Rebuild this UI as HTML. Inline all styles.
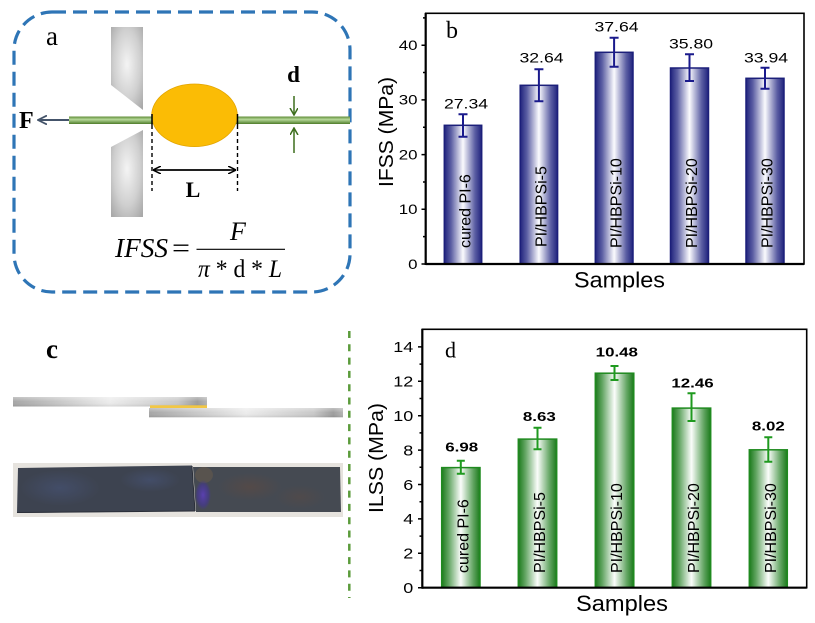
<!DOCTYPE html>
<html><head><meta charset="utf-8"><style>
html,body{margin:0;padding:0;background:#fff;}
svg{display:block;}
text{font-family:"Liberation Sans",Arial,sans-serif;}
.serif{font-family:"Liberation Serif","Times New Roman",serif;}
</style></head><body>
<svg width="815" height="623" viewBox="0 0 815 623" xmlns="http://www.w3.org/2000/svg">
<defs>
<linearGradient id="gb" x1="0" x2="1" y1="0" y2="0">
<stop offset="0" stop-color="#20237d"/><stop offset="0.18" stop-color="#5b5ea3"/><stop offset="0.5" stop-color="#fbfbfe"/><stop offset="0.82" stop-color="#5b5ea3"/><stop offset="1" stop-color="#20237d"/>
</linearGradient>
<linearGradient id="gg" x1="0" x2="1" y1="0" y2="0">
<stop offset="0" stop-color="#1b7a1b"/><stop offset="0.18" stop-color="#62a562"/><stop offset="0.5" stop-color="#fbfdfb"/><stop offset="0.82" stop-color="#62a562"/><stop offset="1" stop-color="#1b7a1b"/>
</linearGradient>
<radialGradient id="grip" cx="0.5" cy="0.45" r="0.7">
<stop offset="0" stop-color="#f4f4f4"/><stop offset="0.6" stop-color="#cfcfcf"/><stop offset="1" stop-color="#a9a9a9"/>
</radialGradient>
<linearGradient id="fib" x1="0" x2="0" y1="0" y2="1">
<stop offset="0" stop-color="#5d8b35"/><stop offset="0.4" stop-color="#b7d99a"/><stop offset="1" stop-color="#4e7c2a"/>
</linearGradient>
<linearGradient id="plate" x1="0" x2="1" y1="0" y2="0">
<stop offset="0" stop-color="#a6a6a6"/><stop offset="0.5" stop-color="#ececec"/><stop offset="0.85" stop-color="#c8c8c8"/><stop offset="0.95" stop-color="#9d9d9d"/><stop offset="1" stop-color="#b5b5b5"/>
</linearGradient>
<linearGradient id="plateV" x1="0" x2="0" y1="0" y2="1">
<stop offset="0" stop-color="#fff" stop-opacity="0.35"/><stop offset="0.5" stop-color="#fff" stop-opacity="0"/><stop offset="1" stop-color="#000" stop-opacity="0.1"/>
</linearGradient>
<radialGradient id="rust" cx="0.5" cy="0.5" r="0.5">
<stop offset="0" stop-color="#5a4a44" stop-opacity="0.7"/><stop offset="1" stop-color="#5a4a44" stop-opacity="0"/>
</radialGradient>
<radialGradient id="blu" cx="0.5" cy="0.5" r="0.5">
<stop offset="0" stop-color="#475478" stop-opacity="0.6"/><stop offset="1" stop-color="#475478" stop-opacity="0"/>
</radialGradient>
<radialGradient id="purp" cx="0.5" cy="0.5" r="0.5">
<stop offset="0" stop-color="#5a40b0"/><stop offset="0.7" stop-color="#453a88" stop-opacity="0.8"/><stop offset="1" stop-color="#453a88" stop-opacity="0"/>
</radialGradient>
<marker id="ahBlk" markerWidth="8" markerHeight="8" refX="7" refY="4" orient="auto" markerUnits="userSpaceOnUse"><path d="M0,0 L8,4 L0,8" fill="none" stroke="#000" stroke-width="1.5"/></marker>
<marker id="ahF" markerWidth="10" markerHeight="10" refX="9" refY="5" orient="auto" markerUnits="userSpaceOnUse"><path d="M0,0.5 L9,5 L0,9.5" fill="none" stroke="#44546a" stroke-width="1.8"/></marker>
<marker id="ahG" markerWidth="8" markerHeight="10" refX="7" refY="4" orient="auto" markerUnits="userSpaceOnUse"><path d="M0,0 L7,4 L0,8" fill="none" stroke="#3c6e1c" stroke-width="1.5"/></marker>
</defs>

<!-- Panel a -->
<rect x="14" y="12" width="336" height="280" rx="38" ry="38" fill="none" stroke="#2e75b6" stroke-width="3.2" stroke-dasharray="14 7"/>
<text class="serif" x="46" y="45" font-size="27">a</text>
<polygon points="111,27 143,27 143,110 111,85" fill="url(#grip)"/>
<polygon points="143,130 143,217 111,217 111,147" fill="url(#grip)"/>
<rect x="69" y="116.5" width="281" height="7.5" fill="url(#fib)"/>
<ellipse cx="194.5" cy="115.3" rx="42.8" ry="31.3" fill="#fbbc05" stroke="#e2a400" stroke-width="0.8"/>
<line x1="152" y1="114" x2="152" y2="125" stroke="#000" stroke-width="1.5"/>
<line x1="237.5" y1="114" x2="237.5" y2="125" stroke="#000" stroke-width="1.5"/>
<line x1="152" y1="125" x2="152" y2="191" stroke="#000" stroke-width="1.4" stroke-dasharray="4 3"/>
<line x1="237.5" y1="125" x2="237.5" y2="191" stroke="#000" stroke-width="1.4" stroke-dasharray="4 3"/>
<line x1="160" y1="170" x2="235" y2="170" stroke="#000" stroke-width="1.5" marker-end="url(#ahBlk)"/>
<line x1="230" y1="170" x2="154" y2="170" stroke="#000" stroke-width="1.5" marker-end="url(#ahBlk)"/>
<text class="serif" x="193" y="197" font-size="22" font-weight="bold" text-anchor="middle">L</text>
<line x1="69" y1="120" x2="38" y2="120" stroke="#44546a" stroke-width="2" marker-end="url(#ahF)"/>
<text class="serif" x="19" y="128" font-size="24" font-weight="bold">F</text>
<text class="serif" x="293.5" y="82" font-size="23" font-weight="bold" text-anchor="middle">d</text>
<line x1="294" y1="96" x2="294" y2="115" stroke="#3c6e1c" stroke-width="1.5" marker-end="url(#ahG)"/>
<line x1="294" y1="153" x2="294" y2="128" stroke="#3c6e1c" stroke-width="1.5" marker-end="url(#ahG)"/>
<text class="serif" x="115" y="257" font-size="27" font-style="italic" textLength="53" lengthAdjust="spacingAndGlyphs">IFSS</text>
<text class="serif" x="172" y="257" font-size="27" textLength="18" lengthAdjust="spacingAndGlyphs">=</text>
<line x1="196.5" y1="249.3" x2="285" y2="249.3" stroke="#000" stroke-width="1.2"/>
<text class="serif" x="230" y="240" font-size="26" font-style="italic">F</text>
<text class="serif" x="198" y="277" font-size="25" textLength="84" lengthAdjust="spacingAndGlyphs"><tspan font-style="italic">π</tspan> * d * <tspan font-style="italic">L</tspan></text>

<!-- Panel c -->
<text class="serif" x="46" y="358" font-size="27" font-weight="bold">c</text>
<rect x="13" y="397" width="194" height="9.5" fill="url(#plate)"/>
<rect x="13" y="397" width="194" height="9.5" fill="url(#plateV)"/>
<rect x="150" y="405.3" width="57" height="2.7" fill="#f2c744"/>
<rect x="149" y="408" width="194" height="9.3" fill="url(#plate)"/>
<rect x="149" y="408" width="194" height="9.3" fill="url(#plateV)"/>
<rect x="13" y="463" width="330" height="54" fill="#e6e3de"/>
<polygon points="18,468 192,465.5 195,511 17,513" fill="#3d4350"/>
<polygon points="193,467 340,467 341,512 196,512" fill="#454a52"/>
<ellipse cx="60" cy="488" rx="40" ry="18" fill="url(#blu)"/>
<ellipse cx="150" cy="480" rx="30" ry="12" fill="url(#blu)"/>
<ellipse cx="250" cy="487" rx="32" ry="14" fill="url(#rust)"/>
<ellipse cx="300" cy="497" rx="25" ry="12" fill="url(#rust)" opacity="0.7"/>
<ellipse cx="204" cy="475" rx="9" ry="8" fill="#7a6448" opacity="0.35"/>
<ellipse cx="203" cy="495" rx="8" ry="15" fill="url(#purp)"/>
<line x1="17" y1="512.5" x2="195" y2="511" stroke="#2a2e38" stroke-width="1"/>
<line x1="192" y1="466" x2="195" y2="511" stroke="#2a2e38" stroke-width="1"/>

<line x1="349.3" y1="331" x2="349.3" y2="598" stroke="#5b9b3b" stroke-width="2.5" stroke-dasharray="7 6.3"/>

<!-- Panel b -->
<g>
<rect x="444.3" y="125.3" width="37.4" height="138.7" fill="url(#gb)" stroke="#1c1f7a" stroke-width="1.5"/>
<rect x="520.2" y="85.3" width="37.4" height="178.7" fill="url(#gb)" stroke="#1c1f7a" stroke-width="1.5"/>
<rect x="595.3" y="52.3" width="37.7" height="211.7" fill="url(#gb)" stroke="#1c1f7a" stroke-width="1.5"/>
<rect x="670.5" y="68" width="38" height="196" fill="url(#gb)" stroke="#1c1f7a" stroke-width="1.5"/>
<rect x="746" y="78.3" width="38" height="185.7" fill="url(#gb)" stroke="#1c1f7a" stroke-width="1.5"/>
<g stroke="#1a1a8c" stroke-width="2" fill="none">
<path d="M463,114.3V136.7M458.5,114.3H467.5M458.5,136.7H467.5"/>
<path d="M538.9,69.3V101.3M534.4,69.3H543.4M534.4,101.3H543.4"/>
<path d="M614.1,37.7V66.7M609.6,37.7H618.6M609.6,66.7H618.6"/>
<path d="M689.5,54.3V81M685,54.3H694M685,81H694"/>
<path d="M765,67.7V88.7M760.5,67.7H769.5M760.5,88.7H769.5"/>
</g>
<g font-size="14" text-anchor="middle" fill="#000">
<text transform="translate(466,108.3) scale(1.26,1)">27.34</text>
<text transform="translate(541.5,62.7) scale(1.26,1)">32.64</text>
<text transform="translate(616.5,31.7) scale(1.26,1)">37.64</text>
<text transform="translate(691,48.3) scale(1.26,1)">35.80</text>
<text transform="translate(766,62.7) scale(1.26,1)">33.94</text>
</g>
<g font-size="16" fill="#000">
<text transform="translate(470.5,248) rotate(-90)">cured PI-6</text>
<text transform="translate(546.5,247) rotate(-90)">PI/HBPSi-5</text>
<text transform="translate(621.6,248) rotate(-90)">PI/HBPSi-10</text>
<text transform="translate(697,248) rotate(-90)">PI/HBPSi-20</text>
<text transform="translate(772.5,248) rotate(-90)">PI/HBPSi-30</text>
</g>
<rect x="425.7" y="13.3" width="378.3" height="250.7" fill="none" stroke="#000" stroke-width="1.6"/>
<line x1="425.7" y1="264" x2="804" y2="264" stroke="#000" stroke-width="2.2"/>
<line x1="425.7" y1="13" x2="425.7" y2="265" stroke="#000" stroke-width="2.2"/>
<g stroke="#000" stroke-width="1.5">
<path d="M421.5,264H426M421.5,209.3H426M421.5,154.6H426M421.5,99.9H426M421.5,45.2H426"/>
<path d="M423,236.65H426M423,181.95H426M423,127.25H426M423,72.55H426M423,17.85H426"/>
</g>
<g font-size="13.5" text-anchor="end">
<text transform="translate(417.5,268.8) scale(1.25,1)">0</text>
<text transform="translate(417.5,214.1) scale(1.25,1)">10</text>
<text transform="translate(417.5,159.4) scale(1.25,1)">20</text>
<text transform="translate(417.5,104.7) scale(1.25,1)">30</text>
<text transform="translate(417.5,50) scale(1.25,1)">40</text>
</g>
<text class="serif" x="446" y="38" font-size="24">b</text>
<text transform="translate(393,132) rotate(-90)" font-size="20" text-anchor="middle" textLength="110" lengthAdjust="spacingAndGlyphs">IFSS (MPa)</text>
<text x="619.5" y="287.3" font-size="22" text-anchor="middle" textLength="91" lengthAdjust="spacingAndGlyphs">Samples</text>
</g>

<!-- Panel d -->
<g>
<rect x="441.7" y="467.6" width="38.3" height="120.1" fill="url(#gg)" stroke="#1f8a1f" stroke-width="1.5"/>
<rect x="518.3" y="439.1" width="38.4" height="148.6" fill="url(#gg)" stroke="#1f8a1f" stroke-width="1.5"/>
<rect x="595.3" y="373.2" width="38.5" height="214.5" fill="url(#gg)" stroke="#1f8a1f" stroke-width="1.5"/>
<rect x="672.3" y="408.1" width="38.4" height="179.6" fill="url(#gg)" stroke="#1f8a1f" stroke-width="1.5"/>
<rect x="749.3" y="449.8" width="38" height="137.9" fill="url(#gg)" stroke="#1f8a1f" stroke-width="1.5"/>
<g stroke="#1f9a1f" stroke-width="2" fill="none">
<path d="M460.8,460.7V473.7M456.8,460.7H464.8M456.8,473.7H464.8"/>
<path d="M537.5,427.7V449.3M533.5,427.7H541.5M533.5,449.3H541.5"/>
<path d="M614.5,366V380M610.5,366H618.5M610.5,380H618.5"/>
<path d="M691.5,393.3V421M687.5,393.3H695.5M687.5,421H695.5"/>
<path d="M768.3,437.3V461.7M764.3,437.3H772.3M764.3,461.7H772.3"/>
</g>
<g font-size="13" font-weight="bold" text-anchor="middle" fill="#000">
<text transform="translate(461.7,451.7) scale(1.3,1)">6.98</text>
<text transform="translate(539.3,421) scale(1.3,1)">8.63</text>
<text transform="translate(616.8,356.7) scale(1.3,1)">10.48</text>
<text transform="translate(692.5,387.3) scale(1.3,1)">12.46</text>
<text transform="translate(768.3,430.7) scale(1.3,1)">8.02</text>
</g>
<g font-size="16" fill="#000">
<text transform="translate(468.3,573) rotate(-90)">cured PI-6</text>
<text transform="translate(545,573) rotate(-90)">PI/HBPSi-5</text>
<text transform="translate(622,573) rotate(-90)">PI/HBPSi-10</text>
<text transform="translate(699,573) rotate(-90)">PI/HBPSi-20</text>
<text transform="translate(775.8,573) rotate(-90)">PI/HBPSi-30</text>
</g>
<rect x="422.3" y="329.3" width="384.4" height="258.4" fill="none" stroke="#000" stroke-width="1.6"/>
<line x1="422.3" y1="587.7" x2="806.7" y2="587.7" stroke="#000" stroke-width="2.2"/>
<line x1="422.3" y1="329" x2="422.3" y2="588.7" stroke="#000" stroke-width="2.2"/>
<g stroke="#000" stroke-width="1.5">
<path d="M418,587.7H423M418,553.3H423M418,518.9H423M418,484.5H423M418,450.1H423M418,415.7H423M418,381.3H423M418,346.9H423"/>
<path d="M419.5,570.5H423M419.5,536.1H423M419.5,501.7H423M419.5,467.3H423M419.5,432.9H423M419.5,398.5H423M419.5,364.1H423"/>
</g>
<g font-size="15" text-anchor="end">
<text transform="translate(413.3,593) scale(1.2,1)">0</text>
<text transform="translate(413.3,558.6) scale(1.2,1)">2</text>
<text transform="translate(413.3,524.2) scale(1.2,1)">4</text>
<text transform="translate(413.3,489.8) scale(1.2,1)">6</text>
<text transform="translate(413.3,455.4) scale(1.2,1)">8</text>
<text transform="translate(413.3,421) scale(1.2,1)">10</text>
<text transform="translate(413.3,386.6) scale(1.2,1)">12</text>
<text transform="translate(413.3,352.2) scale(1.2,1)">14</text>
</g>
<text class="serif" x="445" y="357.5" font-size="22">d</text>
<text transform="translate(383,458) rotate(-90)" font-size="20" text-anchor="middle" textLength="110" lengthAdjust="spacingAndGlyphs">ILSS (MPa)</text>
<text x="622" y="611" font-size="22" text-anchor="middle" textLength="92" lengthAdjust="spacingAndGlyphs">Samples</text>
</g>
</svg>
</body></html>
